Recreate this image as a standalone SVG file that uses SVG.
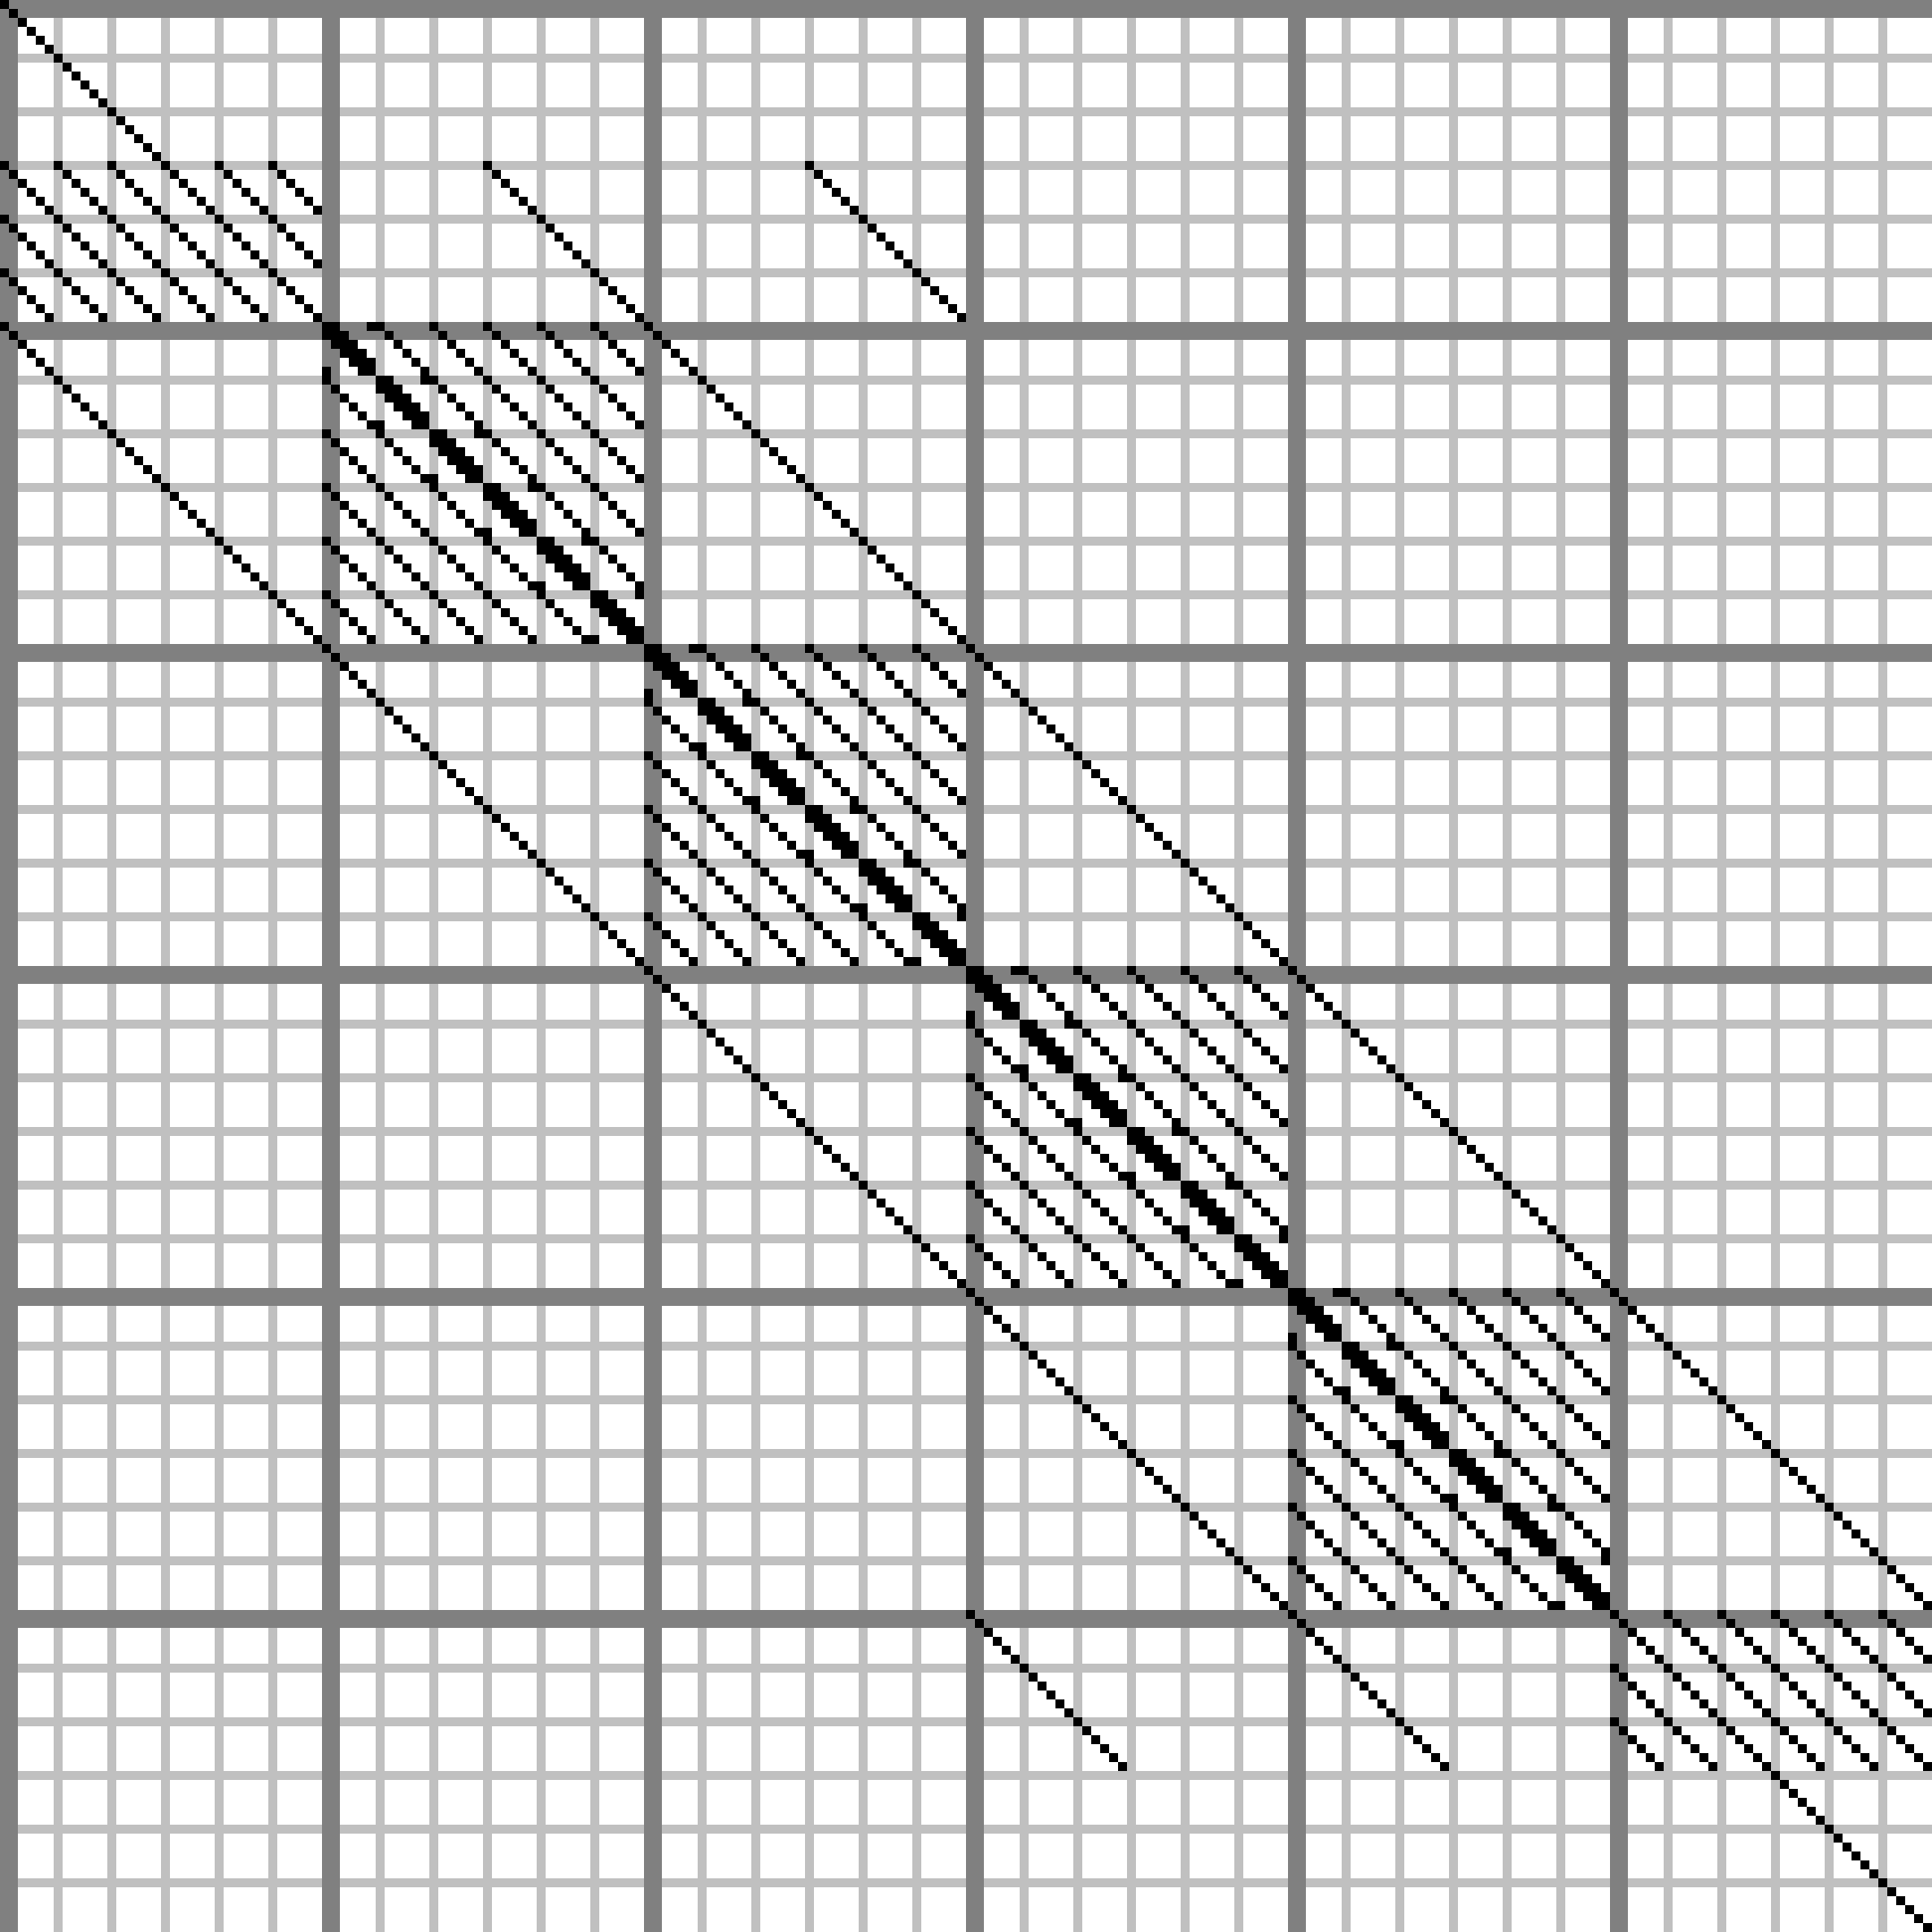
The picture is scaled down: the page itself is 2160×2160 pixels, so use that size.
<svg xmlns="http://www.w3.org/2000/svg" width="2160" height="2160" viewBox="0 0 2160 2160" shape-rendering="crispEdges">
<style>
.lt{stroke:#c0c0c0;stroke-width:10;fill:none}
.dk{stroke:#808080;stroke-width:20;fill:none}
.nz{fill:#000}
</style>
<defs>
<g id="d6"><rect x="0" y="0" width="10" height="10"/><rect x="10" y="10" width="10" height="10"/><rect x="20" y="20" width="10" height="10"/><rect x="30" y="30" width="10" height="10"/><rect x="40" y="40" width="10" height="10"/><rect x="50" y="50" width="10" height="10"/></g>
<g id="t6"><rect x="10" y="0" width="10" height="10"/><rect x="50" y="0" width="10" height="10"/><rect x="20" y="10" width="10" height="10"/><rect x="0" y="10" width="10" height="10"/><rect x="30" y="20" width="10" height="10"/><rect x="10" y="20" width="10" height="10"/><rect x="40" y="30" width="10" height="10"/><rect x="20" y="30" width="10" height="10"/><rect x="50" y="40" width="10" height="10"/><rect x="30" y="40" width="10" height="10"/><rect x="0" y="50" width="10" height="10"/><rect x="40" y="50" width="10" height="10"/></g>
<g id="row6"><use href="#d6" x="0"/><use href="#d6" x="60"/><use href="#d6" x="120"/><use href="#d6" x="180"/><use href="#d6" x="240"/><use href="#d6" x="300"/></g>
<g id="half"><use href="#row6" y="0"/><use href="#row6" y="60"/><use href="#row6" y="120"/></g>
<g id="blk"><use href="#half" y="0"/><use href="#half" y="180"/><use href="#t6" x="0" y="0"/><use href="#t6" x="60" y="60"/><use href="#t6" x="120" y="120"/><use href="#t6" x="180" y="180"/><use href="#t6" x="240" y="240"/><use href="#t6" x="300" y="300"/></g>
<g id="diag3"><use href="#d6" x="0" y="0"/><use href="#d6" x="60" y="60"/><use href="#d6" x="120" y="120"/></g>
<g id="line9"><use href="#diag3" x="0" y="0"/><use href="#diag3" x="180" y="180"/><use href="#diag3" x="360" y="360"/></g>
</defs>
<rect x="0" y="0" width="2160" height="2160" fill="#fff"/>
<g id="grid-light" class="lt">
<path d="M65 0V2160M125 0V2160M185 0V2160M245 0V2160M305 0V2160M425 0V2160M485 0V2160M545 0V2160M605 0V2160M665 0V2160M785 0V2160M845 0V2160M905 0V2160M965 0V2160M1025 0V2160M1145 0V2160M1205 0V2160M1265 0V2160M1325 0V2160M1385 0V2160M1505 0V2160M1565 0V2160M1625 0V2160M1685 0V2160M1745 0V2160M1865 0V2160M1925 0V2160M1985 0V2160M2045 0V2160M2105 0V2160"/>
<path d="M0 65H2160M0 125H2160M0 185H2160M0 245H2160M0 305H2160M0 425H2160M0 485H2160M0 545H2160M0 605H2160M0 665H2160M0 785H2160M0 845H2160M0 905H2160M0 965H2160M0 1025H2160M0 1145H2160M0 1205H2160M0 1265H2160M0 1325H2160M0 1385H2160M0 1505H2160M0 1565H2160M0 1625H2160M0 1685H2160M0 1745H2160M0 1865H2160M0 1925H2160M0 1985H2160M0 2045H2160M0 2105H2160"/>
</g>
<g id="grid-dark" class="dk">
<path d="M10 0V2160M370 0V2160M730 0V2160M1090 0V2160M1450 0V2160M1810 0V2160"/>
<path d="M0 10H2160M0 370H2160M0 730H2160M0 1090H2160M0 1450H2160M0 1810H2160"/>
</g>
<g id="nonzeros" class="nz">
<use href="#diag3" x="0" y="0"/>
<use href="#half" x="0" y="180"/>
<use href="#line9" x="540" y="180"/>
<use href="#line9" x="1080" y="720"/>
<use href="#line9" x="1620" y="1260"/>
<use href="#diag3" x="900" y="180"/>
<use href="#blk" x="360" y="360"/>
<use href="#blk" x="720" y="720"/>
<use href="#blk" x="1080" y="1080"/>
<use href="#blk" x="1440" y="1440"/>
<use href="#line9" x="0" y="360"/>
<use href="#line9" x="540" y="900"/>
<use href="#line9" x="1080" y="1440"/>
<use href="#half" x="1800" y="1800"/>
<use href="#diag3" x="1080" y="1800"/>
<use href="#diag3" x="1980" y="1980"/>
</g>
</svg>
